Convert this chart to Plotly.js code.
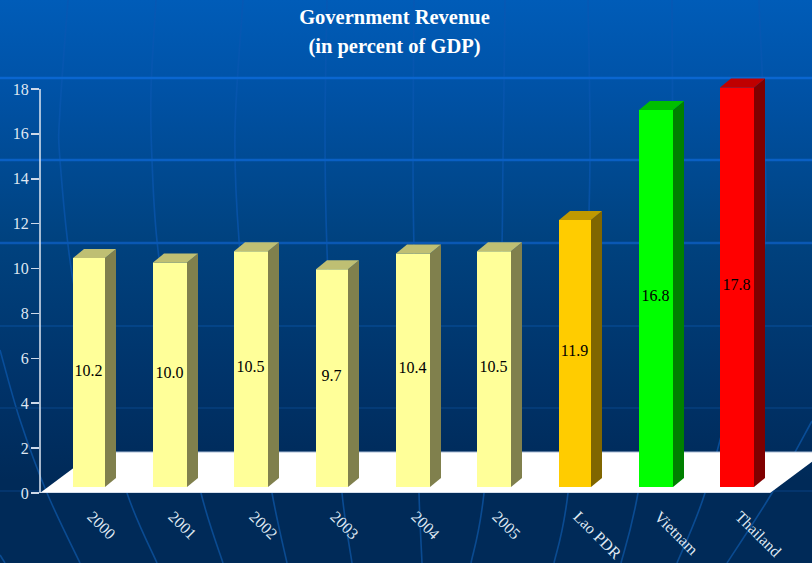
<!DOCTYPE html>
<html>
<head>
<meta charset="utf-8">
<script src="https://cdn.plot.ly/plotly-3.0.1.min.js"></script>
<style>
html,body{margin:0;padding:0;width:812px;height:563px;overflow:hidden}
#bg{position:absolute;left:0;top:0;width:812px;height:563px;background:linear-gradient(to bottom,#005cb8 0px,#0052a6 90px,#00427f 240px,#003268 390px,#002a58 480px,#002a58 563px)}
#bg svg{position:absolute;left:0;top:0}
#chart{position:absolute;left:0;top:0;width:812px;height:563px}
</style>
</head>
<body>
<div id="bg"></div>
<div id="chart"></div>
<script>
// Chart data
const categories = ['2000','2001','2002','2003','2004','2005','Lao PDR','Vietnam','Thailand'];
const values = [10.2,10.0,10.5,9.7,10.4,10.5,11.9,16.8,17.8];
const yTicks = [0,2,4,6,8,10,12,14,16,18];
const frontColors = ['#ffff99','#ffff99','#ffff99','#ffff99','#ffff99','#ffff99','#ffcc00','#00ff00','#ff0000'];
const sideColors  = ['#80804d','#80804d','#80804d','#80804d','#80804d','#80804d','#806600','#008000','#800000'];
const topColors   = ['#bfbf73','#bfbf73','#bfbf73','#bfbf73','#bfbf73','#bfbf73','#bf9900','#00bf00','#bf0000'];
const barPixelWidths = [32,34,34,32,34,34,32,34,34];

// Pixel-to-axis scale of the pseudo-3D look
const unitX = 1/81, unitY = 18/404;
const xRange = [(40-89)*unitX,(812-89)*unitX];
const yRange = [0,423*unitY];
const lift = 6*unitY, depthX = 11*unitX, depthY = 9*unitY;
const floorTop = 41*unitY, floorSlant = 55*unitX;

// Background globe decoration
const NS='http://www.w3.org/2000/svg';
const meridians=[
 [[0,350],[20,420],[47,493],[80,563]],
 [[0,555],[5,563]],
 [[68,0],[60,110],[60,160],[73,280],[100,390],[127,493],[157,563]],
 [[156,0],[151,90],[152,160],[158,250],[178,380],[201,493],[223,563]],
 [[243,0],[235,130],[239,240],[254,380],[272,493],[287,563]],
 [[327,0],[325,130],[327,250],[334,380],[342,493],[352,563]],
 [[414,0],[413,160],[414,250],[417,380],[419,493],[422,563]],
 [[505,0],[503,160],[500,300],[484,493],[471,563]],
 [[588,0],[590,160],[585,300],[568,493],[554,563]],
 [[672,0],[672,160],[665,320],[638,493],[621,563]],
 [[759,0],[765,240],[735,380],[705,493],[677,563]],
 [[812,421],[772,493],[727,563]]
];
const parallels=[[78,2.5,'#0a66d0'],[160,2.5,'#0a60c4'],[243,2.5,'#0a58b4'],[326,1.5,'#06488f'],[408,1.5,'#063f7e'],[491,1.5,'#063a74']];
(function(){
  const svg=document.createElementNS(NS,'svg');
  svg.setAttribute('width',812);svg.setAttribute('height',563);
  svg.innerHTML='<defs><linearGradient id="mg" gradientUnits="userSpaceOnUse" x1="0" y1="0" x2="0" y2="563">'+
    '<stop offset="0" stop-color="#0658b4"/><stop offset="0.5" stop-color="#074f9f"/><stop offset="1" stop-color="#0a4a90"/></linearGradient></defs>';
  meridians.forEach(pts=>{
    let d='M'+pts[0];
    for(let i=0;i<pts.length-1;i++){
      const p0=pts[Math.max(0,i-1)],p1=pts[i],p2=pts[i+1],p3=pts[Math.min(pts.length-1,i+2)];
      d+=' C'+(p1[0]+(p2[0]-p0[0])/6)+','+(p1[1]+(p2[1]-p0[1])/6)+' '+(p2[0]-(p3[0]-p1[0])/6)+','+(p2[1]-(p3[1]-p1[1])/6)+' '+p2[0]+','+p2[1];
    }
    const e=document.createElementNS(NS,'path');
    e.setAttribute('d',d);e.setAttribute('fill','none');e.setAttribute('stroke','url(#mg)');e.setAttribute('stroke-width','1.6');
    svg.appendChild(e);
  });
  parallels.forEach(p=>{
    const e=document.createElementNS(NS,'line');
    e.setAttribute('x1',0);e.setAttribute('x2',812);e.setAttribute('y1',p[0]);e.setAttribute('y2',p[0]);
    e.setAttribute('stroke',p[2]);e.setAttribute('stroke-width',p[1]);
    svg.appendChild(e);
  });
  document.getElementById('bg').appendChild(svg);
})();

const serif='"Liberation Serif","Times New Roman",serif';
const xs=categories.map((c,i)=>i);
const widths=barPixelWidths.map(w=>w*unitX);

const traces=[{
  type:'bar',x:xs,y:values,base:values.map(()=>lift),width:widths,
  marker:{color:frontColors,line:{width:0}},
  hoverinfo:'skip',showlegend:false
}];
values.forEach((v,i)=>{
  const l=i-widths[i]/2,r=i+widths[i]/2,t=lift+v;
  traces.push({type:'scatter',mode:'lines',fill:'toself',fillcolor:sideColors[i],line:{width:0,color:sideColors[i]},
    x:[r,r+depthX,r+depthX,r,r],y:[lift,lift+depthY,t+depthY,t,lift],hoverinfo:'skip',showlegend:false});
  traces.push({type:'scatter',mode:'lines',fill:'toself',fillcolor:topColors[i],line:{width:0,color:topColors[i]},
    x:[l,l+depthX,r+depthX,r,l],y:[t,t+depthY,t+depthY,t,t],hoverinfo:'skip',showlegend:false});
});
// value labels, centred in each bar's front face
traces.push({type:'scatter',mode:'text',cliponaxis:false,
  x:xs.map(i=>i-0.5*unitX),y:values.map(v=>lift+v/2+1*unitY),
  text:values.map(v=>v.toFixed(1)),textposition:'middle center',
  textfont:{family:serif,size:16,color:'#000000'},hoverinfo:'skip',showlegend:false});

const xL=xRange[0], xR=(770-89)*unitX;
const shapes=[
 {type:'path',layer:'below',xref:'x',yref:'y',fillcolor:'#ffffff',line:{width:0},
  path:`M${xL},0 L${xR},0 L${xR+floorSlant},${floorTop} L${xL+floorSlant},${floorTop} Z`},
 {type:'line',layer:'below',xref:'x',yref:'y',x0:xL+floorSlant,x1:xR+floorSlant,y0:floorTop,y1:floorTop,line:{color:'#a9bcd6',width:1}},
 {type:'line',layer:'below',xref:'x',yref:'y',x0:xL,x1:xR,y0:0,y1:0,line:{color:'#c8d4e6',width:1.5}},
 {type:'line',layer:'above',xref:'paper',yref:'y',x0:0,x1:0,y0:0,y1:18,line:{color:'#dfe7f2',width:1.5}}
];

const layout={
  width:812,height:563,
  margin:{l:40,r:0,t:70,b:70,autoexpand:false},
  paper_bgcolor:'rgba(0,0,0,0)',plot_bgcolor:'rgba(0,0,0,0)',
  showlegend:false,
  title:{text:'<span style="font-size:20.5px">Government Revenue</span><br><span style="font-size:20.5px">(in percent of GDP)</span>',
    x:394.5/812,xanchor:'center',xref:'container',y:0.957,yanchor:'top',
    font:{family:serif,size:22.3,color:'#ffffff',weight:700}},
  xaxis:{type:'linear',range:xRange,tickmode:'array',tickvals:xs,ticktext:categories,tickangle:45,
    ticks:'',showgrid:false,zeroline:false,showline:false,ticklabeloverflow:'allow',
    ticklabelstandoff:10,ticklabelshift:3,
    tickfont:{family:serif,size:16,color:'#dfe7f2'}},
  yaxis:{range:yRange,tickmode:'array',tickvals:yTicks,ticks:'outside',ticklen:8,tickwidth:1.5,tickcolor:'#cdd8e8',
    showgrid:false,zeroline:false,showline:false,ticklabelstandoff:-1,
    tickfont:{family:serif,size:16,color:'#dfe7f2'}},
  shapes:shapes,barmode:'overlay'
};
Plotly.newPlot('chart',traces,layout,{displayModeBar:false,staticPlot:true});
</script>
</body>
</html>
